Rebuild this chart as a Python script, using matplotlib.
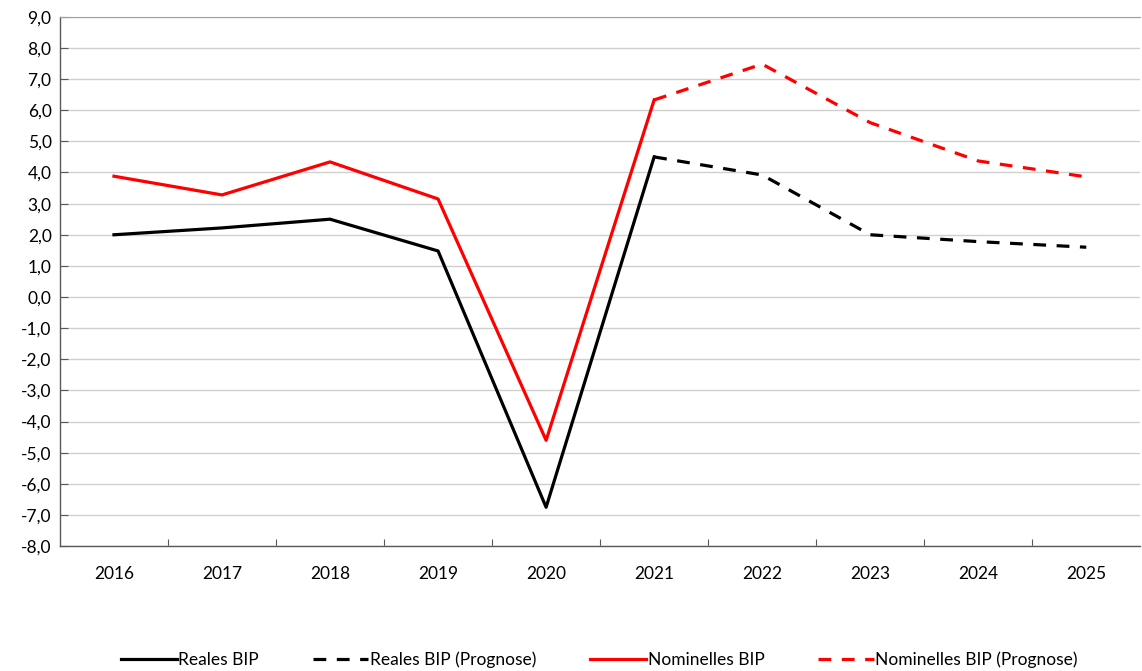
import matplotlib.pyplot as plt
from matplotlib.ticker import FuncFormatter

plt.rcParams['font.family'] = ['Lato', 'DejaVu Sans']

years = ['2016', '2017', '2018', '2019', '2020', '2021', '2022', '2023', '2024', '2025']
real_hist = [2.0, 2.22, 2.5, 1.48, -6.75, 4.5]
real_prog = [4.5, 3.92, 2.0, 1.78, 1.6]
nom_hist = [3.88, 3.28, 4.34, 3.15, -4.6, 6.33]
nom_prog = [6.33, 7.48, 5.6, 4.37, 3.86]

x_hist = list(range(6))
x_prog = list(range(5, 10))

fig = plt.figure(figsize=(11.42, 6.71), dpi=100)
ax = fig.add_axes([0.0525, 0.186, 0.946, 0.789])

lw = 2.3
dash = (0, (4, 3.3))
ax.plot(x_hist, real_hist, color='black', linewidth=lw, label='Reales BIP')
ax.plot(x_prog, real_prog, color='black', linewidth=lw, linestyle=dash,
        label='Reales BIP (Prognose)')
ax.plot(x_hist, nom_hist, color='#ff0000', linewidth=lw, label='Nominelles BIP')
ax.plot(x_prog, nom_prog, color='#ff0000', linewidth=lw, linestyle=dash,
        label='Nominelles BIP (Prognose)')

ax.set_xlim(-0.5, 9.5)
ax.set_ylim(-8, 9)
ax.set_yticks(range(-8, 10))
ax.yaxis.set_major_formatter(FuncFormatter(lambda v, p: f'{v:.1f}'.replace('.', ',')))

ax.set_xticks([i + 0.5 for i in range(9)])
ax.set_xticklabels([])
ax.set_xticks(range(10), minor=True)
ax.set_xticklabels(years, minor=True)
ax.tick_params(axis='x', which='major', direction='in', length=5, color='#595959')
ax.tick_params(axis='x', which='minor', length=0, pad=14, labelsize=12.5)
ax.tick_params(axis='y', direction='in', length=6, color='#595959', labelsize=12.5, pad=6)

ax.grid(axis='y', color='#d0d0d0', linewidth=1)
ax.set_axisbelow(True)
ax.spines['right'].set_visible(False)
ax.spines['top'].set_color('#a0a0a0')
for s in ['left', 'bottom']:
    ax.spines[s].set_color('#595959')
    ax.spines[s].set_linewidth(1)

fig.legend(loc='center', bbox_to_anchor=(0.525, 0.017), ncol=4, frameon=False,
           fontsize=12.5, handlelength=3.2, handletextpad=0.1, columnspacing=3.1)

fig.savefig('out.png', dpi=100)
